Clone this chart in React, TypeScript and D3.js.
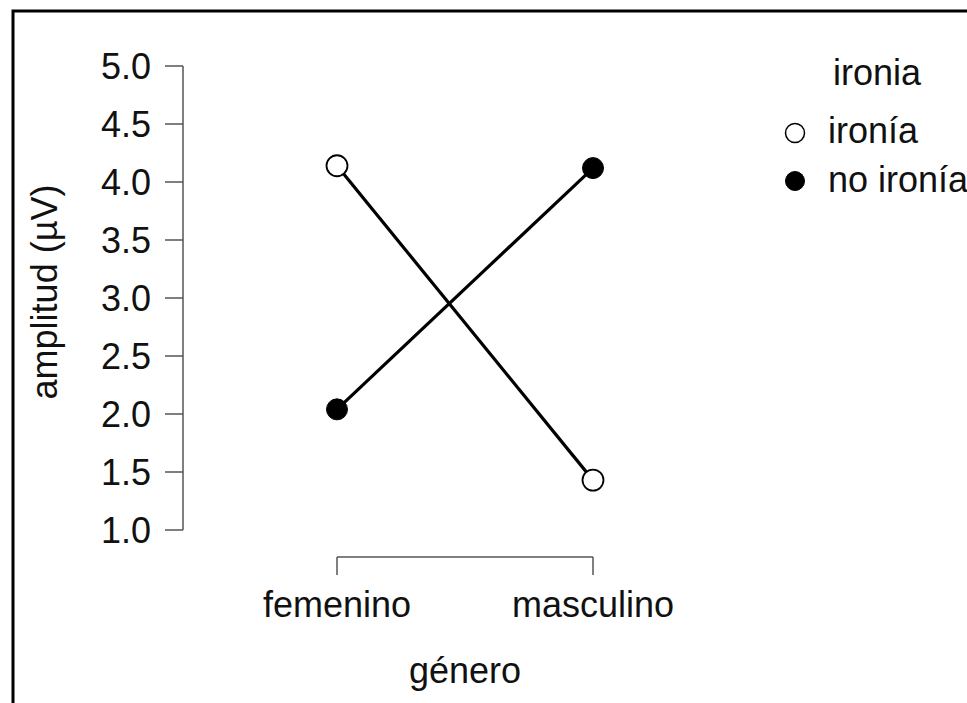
import React from "react";
import * as d3 from "d3";

const categories = ["femenino", "masculino"];
const seriesNames = ["ironía", "no ironía"];
const ironiaValues = [4.14, 1.43];
const noIroniaValues = [2.04, 4.12];
const yTicks = [1.0, 1.5, 2.0, 2.5, 3.0, 3.5, 4.0, 4.5, 5.0];

const W = 967;
const H = 703;
const FONT = "'Liberation Sans', Arial, Helvetica, sans-serif";
const FS = 36;

export default function App() {
  const y = d3.scaleLinear().domain([1, 5]).range([530, 66]);
  const x = d3.scalePoint<string>().domain(categories).range([337, 593]);
  const axisX = 183;
  const axisY = 557;

  const series = [
    { name: seriesNames[0], values: ironiaValues, fill: "#fff" },
    { name: seriesNames[1], values: noIroniaValues, fill: "#000" },
  ];
  const line = d3
    .line<number>()
    .x((_, i) => x(categories[i]) as number)
    .y((d) => y(d));

  return (
    <svg
      width={W}
      height={H}
      style={{ position: "absolute", left: 0, top: 0, background: "#fff" }}
      fontFamily={FONT}
    >
      <rect x={0} y={0} width={W} height={H} fill="#fff" />
      <rect x={13} y={11} width={W + 20} height={H + 20} fill="none" stroke="#000" strokeWidth={3} />

      {/* y axis */}
      <line x1={axisX} x2={axisX} y1={y(1)} y2={y(5)} stroke="#555" strokeWidth={1.5} />
      {yTicks.map((t) => (
        <g key={t}>
          <line x1={axisX - 18} x2={axisX} y1={y(t)} y2={y(t)} stroke="#555" strokeWidth={1.5} />
          <text x={151} y={y(t)} dy="0.36em" textAnchor="end" fontSize={FS} fill="#111">
            {t.toFixed(1)}
          </text>
        </g>
      ))}
      <text
        transform={`translate(57,292) rotate(-90)`}
        textAnchor="middle"
        fontSize={FS}
        fill="#111"
      >
        amplitud (µV)
      </text>

      {/* x axis bracket */}
      <line
        x1={x(categories[0])}
        x2={x(categories[1])}
        y1={axisY}
        y2={axisY}
        stroke="#555"
        strokeWidth={1.5}
      />
      {categories.map((c) => (
        <g key={c}>
          <line x1={x(c)} x2={x(c)} y1={axisY} y2={axisY + 18} stroke="#555" strokeWidth={1.5} />
          <text x={x(c)} y={617} textAnchor="middle" fontSize={FS} fill="#111">
            {c}
          </text>
        </g>
      ))}
      <text x={465} y={683} textAnchor="middle" fontSize={FS} fill="#111">
        género
      </text>

      {/* lines */}
      {series.map((s) => (
        <path key={s.name + "l"} d={line(s.values) || ""} fill="none" stroke="#000" strokeWidth={3.2} />
      ))}
      {series.map((s) =>
        s.values.map((v, i) => (
          <circle
            key={s.name + i}
            cx={x(categories[i])}
            cy={y(v)}
            r={10.5}
            fill={s.fill}
            stroke="#000"
            strokeWidth={s.fill === "#000" ? 1 : 1.8}
          />
        ))
      )}

      {/* legend */}
      <text x={833} y={85} fontSize={FS} fill="#111">
        ironia
      </text>
      {series.map((s, i) => (
        <g key={s.name + "leg"}>
          <circle
            cx={795}
            cy={133 + i * 48}
            r={9.5}
            fill={s.fill}
            stroke="#000"
            strokeWidth={s.fill === "#000" ? 1 : 1.5}
          />
          <text x={828} y={143 + i * 49} fontSize={FS} fill="#111">
            {s.name}
          </text>
        </g>
      ))}
    </svg>
  );
}
